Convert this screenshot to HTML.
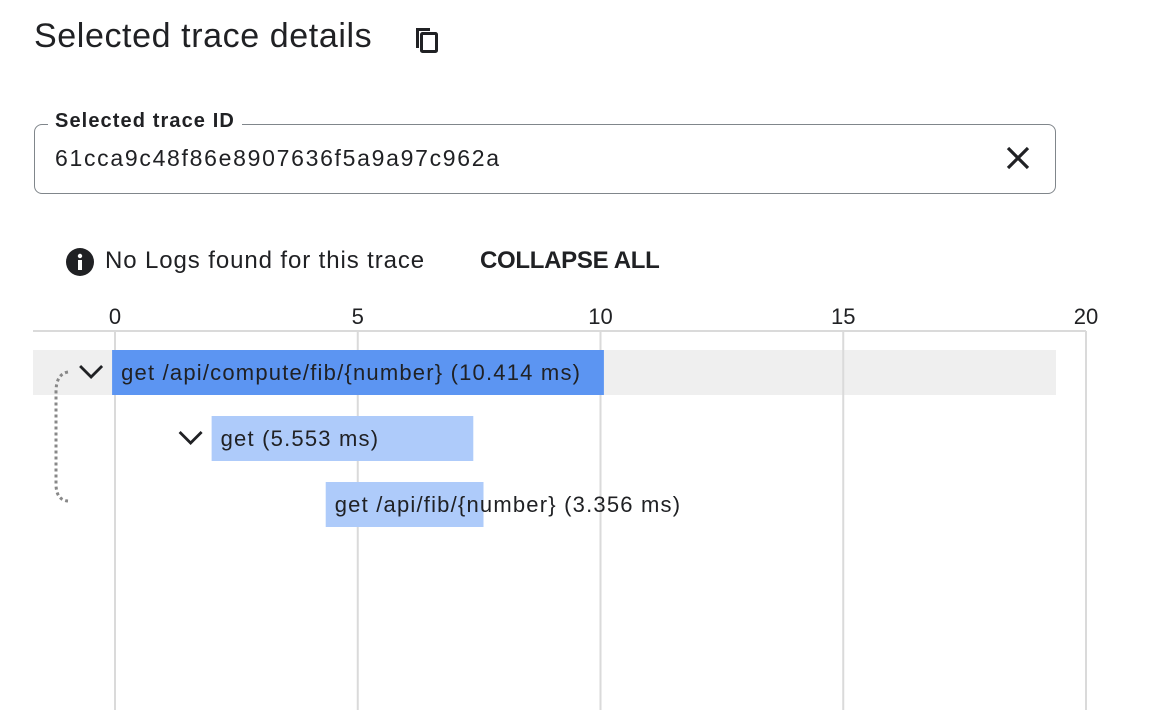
<!DOCTYPE html>
<html><head><meta charset="utf-8"><style>
body{margin:0;width:1162px;height:710px;background:#fff;font-family:"Liberation Sans",sans-serif;color:#202124;overflow:hidden;position:relative}
.a{position:absolute;white-space:nowrap}
</style></head><body>
<div class="a" style="left:34px;top:17px;font-size:34px;letter-spacing:0.6px">Selected trace details</div>
<svg class="a" style="left:412px;top:25px" width="30" height="30" viewBox="0 0 30 30"><path d="M4 3h14v3H7v17H4z" fill="#202124"/><rect x="9.5" y="8.5" width="15" height="18" rx="1" fill="none" stroke="#202124" stroke-width="3"/></svg>
<div class="a" style="left:34px;top:124px;width:1020px;height:68px;border:1.5px solid #80868b;border-radius:8px"></div>
<div class="a" style="left:48px;top:110px;padding:0 7px;background:#fff;font-size:20px;font-weight:bold;letter-spacing:1.1px">Selected trace ID</div>
<div class="a" style="left:55px;top:145px;font-size:23px;letter-spacing:1.7px">61cca9c48f86e8907636f5a9a97c962a</div>
<svg class="a" style="left:1005px;top:145px" width="26" height="26"><path d="M3 3L23 23M23 3L3 23" stroke="#202124" stroke-width="3.2"/></svg>
<svg class="a" style="left:66px;top:248px" width="28" height="28"><circle cx="14" cy="14" r="14" fill="#202124"/><rect x="12" y="12" width="4" height="10" fill="#fff"/><circle cx="14" cy="8" r="2.2" fill="#fff"/></svg>
<div class="a" style="left:105px;top:247px;font-size:24px;letter-spacing:0.9px">No Logs found for this trace</div>
<div class="a" style="left:480px;top:247px;font-size:24px;font-weight:bold;letter-spacing:-0.3px">COLLAPSE ALL</div>
<svg id="chart" class="a" style="left:0;top:290px" width="1162" height="420"></svg>
<script>
const ticks=[0,5,10,15,20];
const spanNames=["get /api/compute/fib/{number} (10.414 ms)","get (5.553 ms)","get /api/fib/{number} (3.356 ms)"];
const spanStarts=[-0.06,1.99,4.34];
const spanDurations=[10.13,5.39,3.25];
const spanDepths=[0,1,2];
const X0=115,PX=48.55,OFF=290;
const X=v=>X0+v*PX;
const Y=i=>350+i*66-OFF;
const NS="http://www.w3.org/2000/svg";
const svg=document.getElementById('chart');
function mk(t,a,p){const e=document.createElementNS(NS,t);for(const k in a)e.setAttribute(k,a[k]);(p||svg).appendChild(e);return e;}
let band=mk('rect',{x:33,y:Y(0),width:1023,height:45,fill:'#efefef'});


ticks.forEach(t=>{
 let g=mk('line',{x1:X(t),x2:X(t),y1:331-OFF,y2:420,stroke:'#dadada','stroke-width':2});
 
 
 let l=mk('text',{x:X(t),y:324-OFF,'text-anchor':'middle','font-size':22,fill:'#202124'});
 l.textContent=t;
 
 
});
let ax=mk('line',{x1:33,x2:X(20),y1:331-OFF,y2:331-OFF,stroke:'#dadada','stroke-width':2});


spanNames.forEach((n,i)=>{
 const x=X(spanStarts[i]),w=spanDurations[i]*PX,y=Y(spanDepths[i]);
 let r=mk('rect',{x:x,y:y,width:w,height:45,fill:i==0?'#5c95f2':'#aecbfa'});
 
 
 let t=mk('text',{x:x+9,y:y+30,'font-size':22,fill:'#202124','letter-spacing':'1.2'});
 t.textContent=n;
 
 
 if(i<2){
  let c=mk('path',{d:`M${x-32} ${y+16}l11 11l11 -11`,fill:'none',stroke:'#202124','stroke-width':2.8});
  
  
 }
});
let d=mk('path',{d:`M68 ${372-OFF} Q56 ${374-OFF} 56 ${392-OFF} L56 ${484-OFF} Q56 ${500-OFF} 68 ${501-OFF}`,fill:'none',stroke:'#888','stroke-width':3,'stroke-dasharray':'3 3'});


</script>
</body></html>
